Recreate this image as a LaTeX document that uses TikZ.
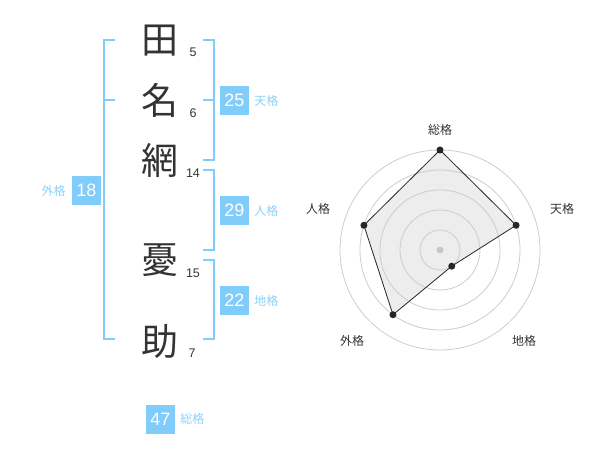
\documentclass[tikz,border=0pt]{standalone}
\usepackage{fontspec}
\setmainfont{Liberation Sans}
\newfontfamily\cjk{Noto Sans CJK JP}
\usetikzlibrary{positioning}
\definecolor{kakublue}{HTML}{80CCFA}
\definecolor{kakutext}{HTML}{8DD0F7}
\definecolor{ink}{HTML}{333333}
\tikzstyle{kanji} = [font=\cjk\fontsize{37}{37}\selectfont,text=ink,inner sep=0]
\tikzstyle{strokenum} = [font=\fontsize{12.5}{13}\selectfont,text=ink,inner sep=0]
\tikzstyle{kakubox} = [fill=kakublue,text=white,minimum size=29pt,inner sep=0,font=\fontsize{18}{18}\selectfont]
\tikzstyle{kakulabel} = [font=\cjk\fontsize{12}{12}\selectfont,text=kakutext,inner sep=0]
\tikzstyle{bracket} = [draw=kakublue,line width=2pt]
\tikzstyle{ring} = [draw=black!20,line width=0.8pt]
\tikzstyle{site} = [circle,fill=black!85,minimum size=7pt,inner sep=0]
\tikzstyle{axis} = [font=\cjk\fontsize{12}{12}\selectfont,text=ink,inner sep=0]
\def \tk {11}

\begin{document}
\begin{tikzpicture}[x=1pt,y=-1pt]
  \useasboundingbox (0,0) rectangle (600,470);
  % name
  \node[kanji] (k1) at (160,41) {田};
  \node[kanji] (k2) at (160,100) {名};
  \node[kanji] (k3) at (160,160) {網};
  \node[kanji] (k4) at (160,260) {憂};
  \node[kanji] (k5) at (160,341) {助};
  \node[strokenum] (s1) at (193,52) {5};
  \node[strokenum] (s2) at (193,113) {6};
  \node[strokenum] (s3) at (193,173) {14};
  \node[strokenum] (s4) at (193,273) {15};
  \node[strokenum] (s5) at (192,353) {7};
  % brackets
  \draw[bracket] (104+\tk,40) -- (104,40) -- (104,339) -- (104+\tk,339);
  \draw[bracket] (104,100) -- +(\tk,0);
  \draw[bracket] (214-\tk,40) -- (214,40) -- (214,160) -- (214-\tk,160);
  \draw[bracket] (214,100) -- +(-\tk,0);
  \draw[bracket] (214-\tk,170) -- (214,170) -- (214,250) -- (214-\tk,250);
  \draw[bracket] (214-\tk,260) -- (214,260) -- (214,339) -- (214-\tk,339);
  % kaku
  \node[kakubox] (ten) at (234.5,100.5) {25};
  \node[kakulabel,right=5pt of ten] (tenl) {天格};
  \node[kakubox] (jin) at (234.5,210.5) {29};
  \node[kakulabel,right=5pt of jin] (jinl) {人格};
  \node[kakubox] (chi) at (234.5,300.5) {22};
  \node[kakulabel,right=5pt of chi] (chil) {地格};
  \node[kakubox] (gai) at (86.5,190.5) {18};
  \node[kakulabel,left=6pt of gai] (gail) {外格};
  \node[kakubox] (sou) at (160.5,419) {47};
  \node[kakulabel,right=5pt of sou] (soul) {総格};
  % radar
  \begin{scope}[shift={(440,250)},yscale=-1]
    \foreach \ang/\val/\nm in {90/5/sou,18/4/ten,-54/1/chi,-126/4/gai,162/4/jin}
      \coordinate (p-\nm) at (\ang:20*\val);
    \fill[black!7] (p-sou) -- (p-ten) -- (p-chi) -- (p-gai) -- (p-jin) -- cycle;
    \foreach \r in {20,40,...,100}
      \draw[ring] (0,0) circle (\r);
    \fill[black!22] (0,0) circle (3.5);
    \draw[black!85,line width=0.8pt] (p-sou) -- (p-ten) -- (p-chi) -- (p-gai) -- (p-jin) -- cycle;
    \foreach \nm in {sou,ten,chi,gai,jin}
      \node[site] (d-\nm) at (p-\nm) {};
    \node[axis] (a-sou) at (0,120) {総格};
    \node[axis] (a-ten) at (122,41) {天格};
    \node[axis] (a-chi) at (84,-91) {地格};
    \node[axis] (a-gai) at (-88,-91) {外格};
    \node[axis] (a-jin) at (-122,41) {人格};
  \end{scope}
\end{tikzpicture}
\end{document}
